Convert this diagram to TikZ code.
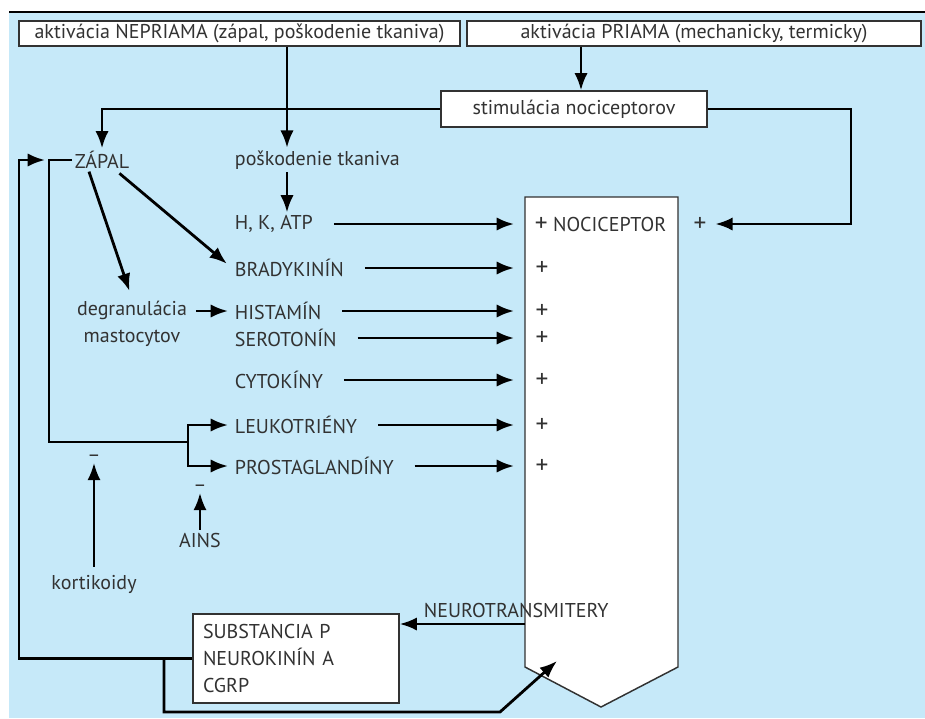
\documentclass[tikz,border=0pt]{standalone}
\usepackage{fontspec}
\setmainfont{PT Sans}
\usetikzlibrary{arrows.meta,calc}

\definecolor{skyback}{RGB}{198,233,249}
\definecolor{inkgray}{RGB}{50,50,50}

\newcommand{\bigplus}{{\fontsize{19}{20}\selectfont +}}

\tikzset{
  lbl/.style={text=inkgray, inner sep=2pt, font=\fontsize{15}{20}\selectfont},
  whitebox/.style={lbl, draw=inkgray, fill=white, line width=0.9pt},
  wire/.style={line width=2.1pt},
  arr/.style={wire, -{Latex[length=13pt,width=10pt]}},
}

\begin{document}
\begin{tikzpicture}[x=0.75pt,y=-0.75pt,line join=miter]
        % draw the background and the frame line
        \fill[white] (0,0) rectangle (925,718);
        \useasboundingbox (0,0) rectangle (925,718);
        \fill[skyback] (9,13) rectangle (925,718);
        \draw[line width=2.2pt] (9,12) -- (925,12);

        % the top boxes
        \node[whitebox, minimum width=330.75pt, minimum height=18.75pt] (nepriama) at (239.5,33.5) {aktivácia NEPRIAMA (zápal, poškodenie tkaniva)};
        \node[whitebox, minimum width=340.5pt, minimum height=18.75pt] (priama) at (694,33.5) {aktivácia PRIAMA (mechanicky, termicky)};
        \node[whitebox, minimum width=199.5pt, minimum height=27pt] (stim) at (574,109) {stimulácia nociceptorov};

        % draw the nociceptor
        \draw[draw=inkgray, fill=white, line width=1.1pt]
              (525,197) coordinate (ntl) -- (678,197) -- (678,667)
              -- (601,707) -- (525,667) coordinate (nbl) -- cycle;

        % labels on the left
        \node[lbl, anchor=west] (zapal) at (72,160) {ZÁPAL};
        \node[lbl, anchor=west] (poskod) at (232,160) {poškodenie tkaniva};
        \node[lbl, align=center] (degran) at (132,324) {degranulácia\\mastocytov};

        % the mediators and their arrows into the nociceptor
        \foreach \n/\y/\txt in {
            hk/224/{H, K, ATP},
            brady/268/BRADYKINÍN,
            hist/311/HISTAMÍN,
            sero/338/SEROTONÍN,
            cyto/380/CYTOKÍNY,
            leuko/425/LEUKOTRIÉNY,
            prosta/466/PROSTAGLANDÍNY} {
                \node[lbl, anchor=west] (\n) at (232,\y) {\txt};
                \draw[arr, shorten <=13.5pt, shorten >=8.25pt] (\n.east) -- (\n.east -| ntl);
        }

        % plus signs
        \node[lbl, anchor=west] (nocic) at (532,224) {\bigplus{} NOCICEPTOR};
        \node[lbl] (plusout) at (700,224) {\bigplus};
        \foreach \n/\y in {brady/268, hist/311, sero/338, cyto/380, leuko/425, prosta/466}
                \node[lbl] (plus\n) at (542,\y) {\bigplus};

        % inhibitors
        \node[lbl, inner sep=1pt] (minusk) at (94,458) {–};
        \node[lbl, inner sep=1pt] (minusa) at (200,488) {–};
        \node[lbl] (kort) at (94,584) {kortikoidy};
        \node[lbl] (ains) at (200,540) {AINS};

        % neurotransmitters
        \node[lbl, anchor=west] (neuro) at (421,610) {NEUROTRANSMITERY};
        \node[whitebox, align=left, text width=139.5pt, minimum height=66.75pt, inner xsep=7.5pt] (subst) at (296,658.5) {SUBSTANCIA P\\NEUROKINÍN A\\CGRP};

        % arrows from the top boxes
        \coordinate (cut) at (287,0);
        \coordinate (cpr) at (581,0);
        \draw[arr] (nepriama.south -| cut) -- (poskod.north -| cut);
        \draw[arr] (poskod.south -| cut) -- (hk.north -| cut);
        \draw[arr] (priama.south -| cpr) -- (stim.north -| cpr);
        \draw[arr] (stim.west) -| (zapal.north);
        \coordinate (rt) at (851,224);
        \draw[arr, shorten >=4.5pt] (stim.east) -| (rt) -- (plusout.east);

        % arrows from the inflammation
        \draw[arr, shorten <=2pt, shorten >=5pt] ([xshift=-11pt]zapal.south east) -- (brady.west);
        \draw[arr, shorten >=6pt] ([xshift=12.75pt]zapal.south west) -- (degran.north);
        \draw[arr, shorten <=4.5pt, shorten >=3pt] (degran.east |- hist.west) -- (hist.west);

        % the fork to leukotriens and prostaglandins
        \coordinate (fork) at (188,442);
        \draw[wire] (zapal.west) -- ++(-23,0) |- (fork);
        \draw[arr, shorten >=3pt] (fork) |- (leuko.west);
        \draw[arr, shorten >=3pt] (fork) |- (prosta.west);

        % feedback loops
        \coordinate (outl) at (19,160);
        \draw[arr] (subst.west) -| (outl) -- ([xshift=-20.25pt]zapal.west);
        \coordinate (lowl) at (164,712);
        \coordinate (lowr) at (500,712);
        \draw[arr] (subst.west -| lowl) -- (lowl) -- (lowr) -- ($(nbl)+(32,-6)$);
        \coordinate (nt) at (525,624);
        \draw[arr] (nt) -- (nt -| subst.east);

        % inhibition arrows
        \draw[arr, shorten <=4pt] (kort.north) -- (minusk.south);
        \draw[arr] (ains.north) -- (minusa.south);
\end{tikzpicture}
\end{document}
